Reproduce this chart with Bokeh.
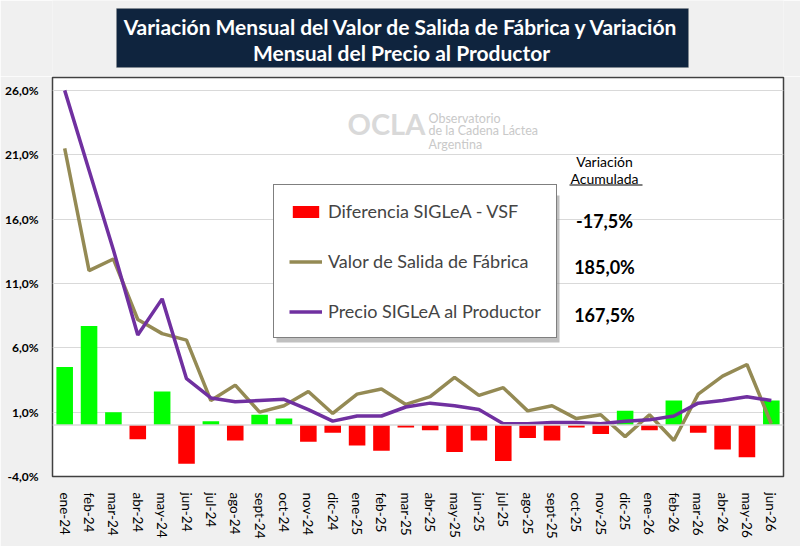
from bokeh.plotting import figure
from bokeh.layouts import column
from bokeh.models import (Range1d, FixedTicker, Span, Label, BoxAnnotation,
                          Legend, LegendItem, ColumnDataSource)
from bokeh.embed import file_html
from bokeh.resources import INLINE

# meses
cats = ["ene-24", "feb-24", "mar-24", "abr-24", "may-24", "jun-24", "jul-24", "ago-24",
        "sept-24", "oct-24", "nov-24", "dic-24", "ene-25", "feb-25", "mar-25", "abr-25",
        "may-25", "jun-25", "jul-25", "ago-25", "sept-25", "oct-25", "nov-25", "dic-25",
        "ene-26", "feb-26", "mar-26", "abr-26", "may-26", "jun-26"]

# variacion mensual VSF (%)
vsf = [21.5, 12.0, 12.9, 8.2, 7.1, 6.6, 1.9, 3.1, 1.0, 1.5, 2.6, 0.9, 2.4, 2.8, 1.6,
       2.2, 3.7, 2.3, 2.9, 1.1, 1.5, 0.5, 0.8, -0.9, 0.8, -1.2, 2.4, 3.8, 4.7, 0.1]

# variacion mensual precio SIGLeA al productor (%)
precio = [26.0, 19.8, 13.6, 7.0, 9.8, 3.6, 2.1, 1.8, 1.9, 2.0, 1.2, 0.3, 0.7, 0.7, 1.4,
          1.7, 1.5, 1.2, 0.1, 0.1, 0.2, 0.2, 0.1, 0.3, 0.4, 0.7, 1.7, 1.9, 2.2, 1.9]

# diferencia SIGLeA - VSF (%)
dif = [4.5, 7.7, 1.0, -1.1, 2.6, -3.0, 0.3, -1.2, 0.8, 0.5, -1.3, -0.6, -1.6, -2.0, -0.2,
       -0.4, -2.1, -1.2, -2.8, -1.0, -1.2, -0.2, -0.7, 1.1, -0.4, 1.9, -0.6, -1.9, -2.5, 1.9]

y_ticks = [-4, 1, 6, 11, 16, 21, 26]
y_labels = ["-4,0%", "1,0%", "6,0%", "11,0%", "16,0%", "21,0%", "26,0%"]

acum_names = ["Diferencia SIGLeA - VSF", "Valor de Salida de Fábrica", "Precio SIGLeA al Productor"]
acum_values = ["-17,5%", "185,0%", "167,5%"]

title_lines = ["Variación Mensual del Valor de Salida de Fábrica y Variación",
               "Mensual del Precio al Productor"]

FONT = "Lato"
OLIVE = "#948a54"
PURPLE = "#7030a0"
BG = "#f0f0f0"

# --- cabecera con el titulo (su marco queda alineado con el del grafico: x 52..783) ---
head = figure(width=800, height=76, x_range=Range1d(0, 1), y_range=Range1d(0, 1),
              x_axis_location=None, y_axis_location=None, output_backend="svg",
              toolbar_location=None, min_border=0)
head.grid.visible = False
head.outline_line_color = None
head.background_fill_color = BG
head.border_fill_color = BG
head.add_layout(BoxAnnotation(left=64, right=636, bottom=9, top=68,
                              left_units="screen", right_units="screen",
                              bottom_units="screen", top_units="screen",
                              fill_color="#0f243e", fill_alpha=1,
                              line_color="#8c8c8c", line_width=1))
for t, yy in zip(title_lines, [50.5, 24.5]):
    head.add_layout(Label(x=349, y=yy, x_units="screen", y_units="screen", text=t,
                          text_font=FONT, text_font_style="bold", text_font_size="21px",
                          text_color="white", text_align="center",
                          text_baseline="alphabetic"))

# --- grafico principal ---
idx = list(range(len(cats)))
bar_colors = ["#00ff00" if d >= 0 else "#ff0000" for d in dif]
src = ColumnDataSource(dict(x=idx, cat=cats, vsf=vsf, precio=precio, dif=dif, color=bar_colors))

p = figure(width=800, height=470, x_range=Range1d(-0.5, len(cats) - 0.5),
           y_range=Range1d(-4, 27), output_backend="svg", toolbar_location=None,
           min_border_left=52, min_border_right=17, min_border_top=1, min_border_bottom=70)
p.background_fill_color = "white"
p.border_fill_color = BG
p.outline_line_color = "#404040"
p.outline_line_width = 1.5

p.xgrid.visible = False
p.ygrid.ticker = FixedTicker(ticks=y_ticks)
p.ygrid.grid_line_color = "#d9d9d9"

p.yaxis.ticker = FixedTicker(ticks=y_ticks)
p.yaxis.major_label_overrides = dict(zip(y_ticks, y_labels))
p.yaxis.axis_line_color = None
p.yaxis.major_tick_line_color = None
p.yaxis.minor_tick_line_color = None
p.yaxis.major_label_standoff = 8
p.yaxis.major_label_text_font = FONT
p.yaxis.major_label_text_font_style = "bold"
p.yaxis.major_label_text_font_size = "12px"
p.yaxis.major_label_text_color = "black"

p.xaxis.ticker = FixedTicker(ticks=idx)
p.xaxis.major_label_overrides = dict(zip(idx, cats))
p.xaxis.major_label_orientation = "vertical"
p.xaxis.axis_line_color = None
p.xaxis.major_tick_line_color = None
p.xaxis.minor_tick_line_color = None
p.xaxis.major_label_standoff = 10
p.xaxis.major_label_text_font = FONT
p.xaxis.major_label_text_font_size = "13.5px"
p.xaxis.major_label_text_color = "black"

p.add_layout(Span(location=0, dimension="width", line_color="#d9d9d9", line_width=1.5))

# logo de fondo
p.add_layout(Label(x=295, y=353, x_units="screen", y_units="screen", text="OCLA",
                   text_font=FONT, text_font_style="bold", text_font_size="29px",
                   text_color="#d9d9d9", text_baseline="middle"))
for t, yy in zip(["Observatorio", "de la Cadena Láctea", "Argentina"], [358, 346, 332]):
    p.add_layout(Label(x=376, y=yy, x_units="screen", y_units="screen", text=t,
                       text_font=FONT, text_font_size="12.5px", text_color="#c9c9c9",
                       text_baseline="middle"))

bars = p.vbar(x="x", top="dif", bottom=0, width=0.68, fill_color="color",
              line_color=None, source=src)
l_vsf = p.line("x", "vsf", line_color=OLIVE, line_width=3.5, source=src)
l_pre = p.line("x", "precio", line_color=PURPLE, line_width=3.5, source=src)

# sombra de la leyenda
p.add_layout(BoxAnnotation(left=224, right=507, bottom=134, top=281,
                           left_units="screen", right_units="screen",
                           bottom_units="screen", top_units="screen",
                           fill_color="#8c8c8c", fill_alpha=0.55, line_color=None))

first_neg = next(i for i, d in enumerate(dif) if d < 0)
legend = Legend(items=[LegendItem(label=acum_names[0], renderers=[bars], index=first_neg),
                       LegendItem(label=acum_names[1], renderers=[l_vsf]),
                       LegendItem(label=acum_names[2], renderers=[l_pre])],
                location=(221, 138), margin=0, padding=15, spacing=28,
                label_height=20, glyph_height=15, glyph_width=33, label_standoff=6,
                label_text_font=FONT, label_text_font_size="18px",
                border_line_color="black", border_line_width=1,
                background_fill_color="white", background_fill_alpha=1)
p.add_layout(legend)

# variacion acumulada
p.add_layout(Label(x=552, y=315, x_units="screen", y_units="screen", text="Variación",
                   text_font=FONT, text_font_size="14px", text_align="center",
                   text_baseline="middle", text_color="black"))
p.add_layout(Label(x=552, y=298, x_units="screen", y_units="screen", text="Acumulada",
                   text_font=FONT, text_font_size="14px", text_align="center",
                   text_baseline="middle", text_color="black"))
p.add_layout(BoxAnnotation(left=517, right=590, bottom=291, top=292,
                           left_units="screen", right_units="screen",
                           bottom_units="screen", top_units="screen",
                           fill_color="black", fill_alpha=1, line_color=None))
for v, yy in zip(acum_values, [256, 210, 162]):
    p.add_layout(Label(x=552, y=yy, x_units="screen", y_units="screen", text=v,
                       text_font=FONT, text_font_style="bold", text_font_size="18px",
                       text_align="center", text_baseline="middle", text_color="black"))

open("out.html", "w").write(file_html(column(head, p), INLINE))
